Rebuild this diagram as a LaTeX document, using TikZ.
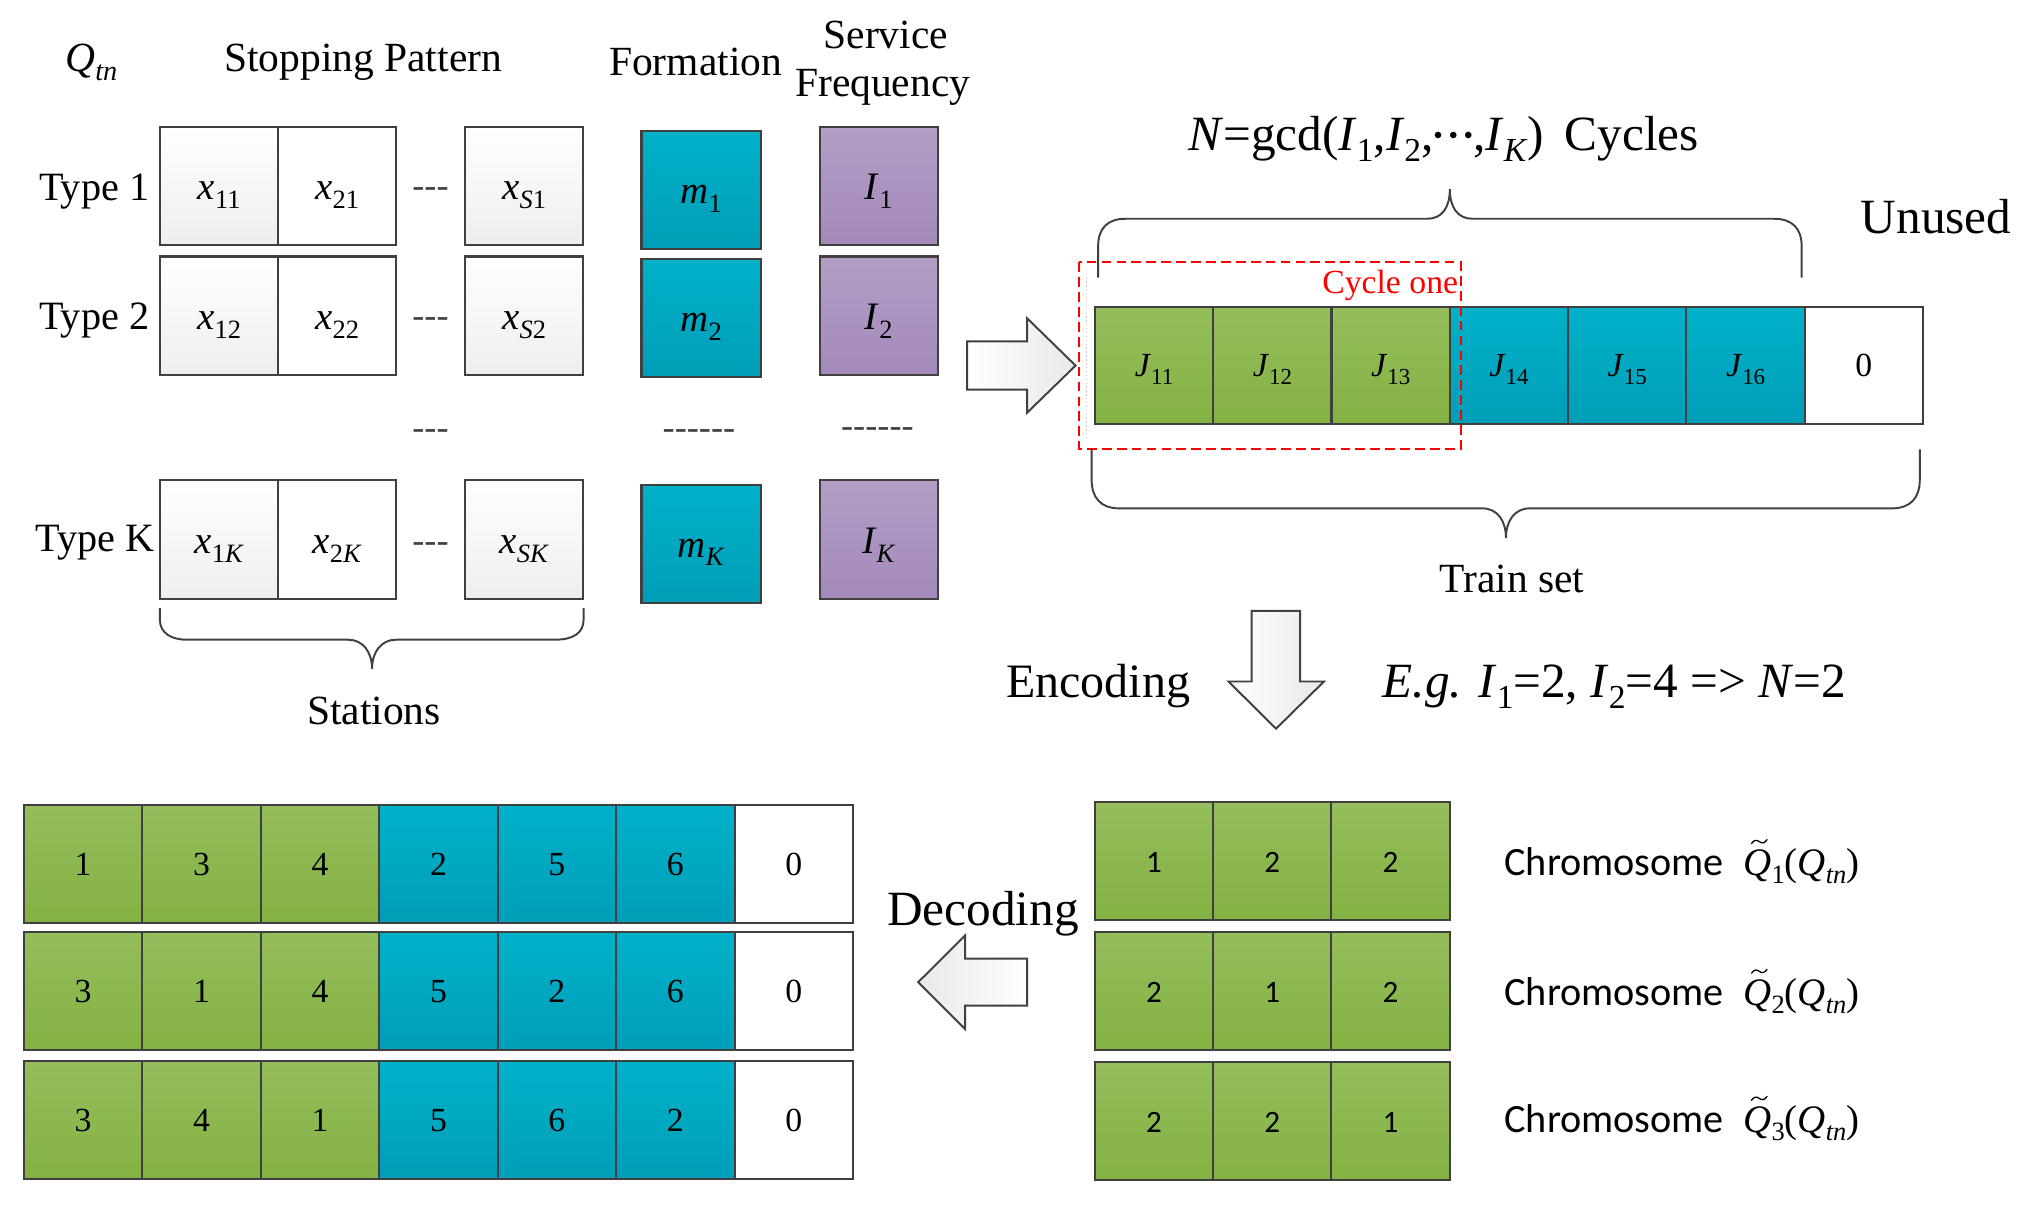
\documentclass[tikz,border=0pt]{standalone}
\usepackage{fontspec}
\setmainfont{Liberation Serif}
\newfontfamily\calfont{Carlito}
\usepackage{graphicx}
\definecolor{bord}{RGB}{64,64,64}
\definecolor{tealT}{RGB}{0,177,201}
\definecolor{tealB}{RGB}{0,158,184}
\definecolor{purT}{RGB}{180,158,198}
\definecolor{purB}{RGB}{163,137,185}
\definecolor{grnT}{RGB}{149,189,92}
\definecolor{grnB}{RGB}{131,178,67}
\definecolor{gryB}{RGB}{238,238,238}
\definecolor{arrB}{RGB}{232,232,232}
\newcommand\sbs[1]{\raisebox{-0.22em}{\scalebox{0.68}{#1}}}
\newcommand\vv[2]{\textit{#1}\sbs{#2}}
\newcommand\mydots{\raisebox{4.6pt}{\fontsize{21}{21}\selectfont •\hspace{4.3pt}•\hspace{4.3pt}•}}
\newcommand\qtil{\textit{Q}\llap{\tikz[baseline=0pt,x=1pt,y=1pt]{\draw[line width=1pt,line cap=round] (0,24.5) .. controls (2,27.5) and (4,27.5) .. (6,26) .. controls (8,24.5) and (10,24.5) .. (12,27.5);}\hspace{3pt}}}
\tikzset{
  bx/.style={draw=bord, line width=1.6pt, inner sep=0pt, outer sep=0pt, anchor=north west,
             minimum width=91.4pt, minimum height=91.2pt, text depth=0pt},
  gbox/.style={bx, top color=white, bottom color=gryB},
  wbox/.style={bx, fill=white},
  tbox/.style={bx, top color=tealT, bottom color=tealB},
  pbox/.style={bx, top color=purT, bottom color=purB},
  gnbox/.style={bx, top color=grnT, bottom color=grnB},
  xlab/.style={font=\fontsize{30}{30}\selectfont, text height=22pt},
  mlab/.style={font=\fontsize{30}{30}\selectfont, text height=20.8pt, minimum width=92pt, minimum height=90.8pt},
  ilab/.style={font=\fontsize{30}{30}\selectfont, text height=21.6pt},
  jlab/.style={font=\fontsize{26}{26}\selectfont, text height=17.2pt, minimum width=91.25pt, minimum height=90.8pt},
  nlab/.style={font=\fontsize{26}{26}\selectfont, text height=17.6pt, minimum width=91.35pt, minimum height=90.9pt},
  clab/.style={font=\calfont\fontsize{24}{24}\selectfont, text height=17.4pt, minimum width=91.2pt, minimum height=90.7pt},
  txt/.style={inner sep=0pt, anchor=base, font=\fontsize{#1}{#1}\selectfont},
  dsh/.style={inner sep=0pt, anchor=base, text=bord, font=\fontsize{28}{28}\selectfont},
  brace/.style={draw=bord, line width=1.5pt},
  blockarrow/.style={draw=bord, line width=1.5pt, line join=miter},
}
\newcommand\brow[9]{%
  \node[gnbox,nlab] (b#1a) at (18.40,#2) {#3};
  \node[gnbox,nlab] (b#1b) at (109.74,#2) {#4};
  \node[gnbox,nlab] (b#1c) at (201.08,#2) {#5};
  \node[tbox,nlab] (b#1d) at (292.42,#2) {#6};
  \node[tbox,nlab] (b#1e) at (383.76,#2) {#7};
  \node[tbox,nlab] (b#1f) at (475.10,#2) {#8};
  \node[wbox,nlab] (b#1g) at (566.44,#2) {#9};}
\newcommand\crow[6]{%
  \node[gnbox,clab] (c#1a) at (844.3,#2) {#3};
  \node[gnbox,clab] (c#1b) at (935.5,#2) {#4};
  \node[gnbox,clab] (c#1c) at (1026.7,#2) {#5};
  \node[txt=31, anchor=base west] (cl#1) at (1160,#6) {{\calfont Chromosome}\hspace{15pt}{\fontsize{30}{30}\selectfont\qtil\sbs{#1}(\textit{Q}\sbs{\textit{tn}})}};}
\begin{document}
\begin{tikzpicture}[x=1pt,y=-1pt]
\useasboundingbox (0,0) rectangle (1560,934);

% ---------- headings top left
\node[txt=32] (qtn) at (70.4,55) {\textit{Q}\sbs{\textit{tn}}};
\node[txt=32] (sp) at (280,55) {Stopping Pattern};
\node[txt=32] (form) at (536.4,58) {Formation};
\node[txt=32] (serv) at (683,37.2) {Service};
\node[txt=32] (freq) at (680.7,74.4) {Frequency};
\node[txt=31] (ty1) at (72.6,154.7) {Type 1};
\node[txt=31] (ty2) at (72.6,254.4) {Type 2};
\node[txt=31] (tyk) at (73.1,425.4) {Type K};

% ---------- stopping pattern cells
\node[gbox,xlab] (x11) at (123.3,97.6) {\vv{x}{11}};
\node[wbox,xlab] (x21) at (214.3,97.6) {\vv{x}{21}};
\node[gbox,xlab] (xS1) at (358.5,97.6) {\vv{x}{\textit{S}1}};
\node[gbox,xlab] (x12) at (123.3,197.8) {\vv{x}{12}};
\node[wbox,xlab] (x22) at (214.3,197.8) {\vv{x}{22}};
\node[gbox,xlab] (xS2) at (358.5,197.8) {\vv{x}{\textit{S}2}};
\node[gbox,xlab] (x1K) at (123.3,370.4) {\vv{x}{1\textit{K}}};
\node[wbox,xlab] (x2K) at (214.3,370.4) {\vv{x}{2\textit{K}}};
\node[gbox,xlab] (xSK) at (358.5,370.4) {\vv{x}{\textit{SK}}};

\node[dsh] (d1) at (332,152.6) {-{}-{}-};
\node[dsh] (d2) at (332,252.6) {-{}-{}-};
\node[dsh] (d3) at (332,338.9) {-{}-{}-};
\node[dsh] (d4) at (332,425.8) {-{}-{}-};
\node[dsh] (d5) at (539,338.9) {-{}-{}-{}-{}-{}-};
\node[dsh] (d6) at (676.6,337.1) {-{}-{}-{}-{}-{}-};

% ---------- formation and frequency
\node[tbox,mlab] (m1) at (494.7,101.2) {\vv{m}{1}};
\node[tbox,mlab] (m2) at (494.7,200.0) {\vv{m}{2}};
\node[tbox,mlab] (mK) at (494.7,374.0) {\vv{m}{\textit{K}}};
\node[pbox,ilab] (I1) at (632,97.6) {\vv{I}{1}};
\node[pbox,ilab] (I2) at (632,197.8) {\vv{I}{2}};
\node[pbox,ilab] (IK) at (632,370.4) {\vv{I}{\textit{K}}};

% stations brace
\draw[brace] (123.3,469) -- (123.3,478) .. controls (123.3,488) and (132,493.3) .. (144,493.3)
  -- (268.5,493.3) .. controls (280,493.3) and (286.9,503) .. (286.9,515.7)
  .. controls (286.9,503) and (293.8,493.3) .. (305.3,493.3) -- (428,493.3)
  .. controls (442,493.3) and (450,488) .. (450,478) -- (450,469);
\node[txt=32] (stat) at (288.4,558.9) {Stations};

% ---------- arrow to train set
\draw[blockarrow, left color=white, right color=arrB] (745.8,263.3) -- (792,263.3) -- (792,245.4) -- (829.4,281.9)
  -- (792,318.3) -- (792,300.5) -- (745.8,300.5) -- cycle;

% ---------- train set
\node[txt=38, anchor=base west] (gcd) at (916,116)
  {\textit{N}=gcd(\textit{I}\sbs{1},\textit{I}\sbs{2},\mydots,\textit{I}\sbs{\textit{K}})\hspace{16pt}Cycles};
\node[txt=38] (unused) at (1493,180) {Unused};
\draw[brace] (846.8,214) -- (846.8,190) .. controls (846.8,176) and (854,168.7) .. (868,168.7)
  -- (1100.6,168.7) .. controls (1112,168.7) and (1118,160) .. (1118,145.8)
  .. controls (1118,160) and (1124,168.7) .. (1135.5,168.7) -- (1368,168.7)
  .. controls (1382,168.7) and (1389.3,176) .. (1389.3,190) -- (1389.3,214);

\node[gnbox,jlab] (J11) at (844.30,236.5) {\vv{J}{11}};
\node[gnbox,jlab] (J12) at (935.53,236.5) {\vv{J}{12}};
\node[gnbox,jlab] (J13) at (1026.76,236.5) {\vv{J}{13}};
\node[tbox,jlab] (J14) at (1117.99,236.5) {\vv{J}{14}};
\node[tbox,jlab] (J15) at (1209.22,236.5) {\vv{J}{15}};
\node[tbox,jlab] (J16) at (1300.45,236.5) {\vv{J}{16}};
\node[wbox,jlab] (J0) at (1391.68,236.5) {0};

\draw[gray!45, dotted, line width=1pt] (838,208) -- (838,340);
\draw[red, line width=1.5pt, dash pattern=on 7.5pt off 4pt] (832.4,202.3) rectangle (1126.5,346);
\node[txt=26, text=red] (cyc) at (1072,226.1) {Cycle one};

\draw[brace] (841.8,346.6) -- (841.8,370) .. controls (841.8,384) and (849,392) .. (863,392)
  -- (1143,392) .. controls (1155,392) and (1161.3,402) .. (1161.3,415)
  .. controls (1161.3,402) and (1167.6,392) .. (1179.6,392) -- (1459,392)
  .. controls (1473,392) and (1480.4,384) .. (1480.4,370) -- (1480.4,346.6);
\node[txt=32] (train) at (1166,456.7) {Train set};

% ---------- encoding
\node[txt=37, anchor=base east] (enc) at (918,538) {Encoding};
\draw[blockarrow, left color=white, right color=arrB] (965.2,471) -- (1002.6,471) -- (1002.6,525.5) -- (1021,525.5)
  -- (984,561.9) -- (947.3,525.5) -- (965.2,525.5) -- cycle;
\node[txt=38, anchor=base west] (eg) at (1066,538)
  {\textit{E.g.} \textit{I}\sbs{1}=2, \textit{I}\sbs{2}=4 => \textit{N}=2};

% ---------- chromosomes
\crow{1}{618.5}{1}{2}{2}{675}
\crow{2}{719.0}{2}{1}{2}{775}
\crow{3}{819.0}{2}{2}{1}{873}

% ---------- decoding
\node[txt=38, anchor=base west] (dec) at (684,713.8) {Decoding};
\draw[blockarrow, left color=arrB, right color=white] (792,739.2) -- (792,775.5) -- (744.3,775.5) -- (744.3,793.7)
  -- (708,757.4) -- (744.3,721.3) -- (744.3,739.2) -- cycle;

% ---------- decoded train sets
\brow{1}{620.6}{1}{3}{4}{2}{5}{6}{0}
\brow{2}{718.6}{3}{1}{4}{5}{2}{6}{0}
\brow{3}{818.1}{3}{4}{1}{5}{6}{2}{0}
\end{tikzpicture}
\end{document}
